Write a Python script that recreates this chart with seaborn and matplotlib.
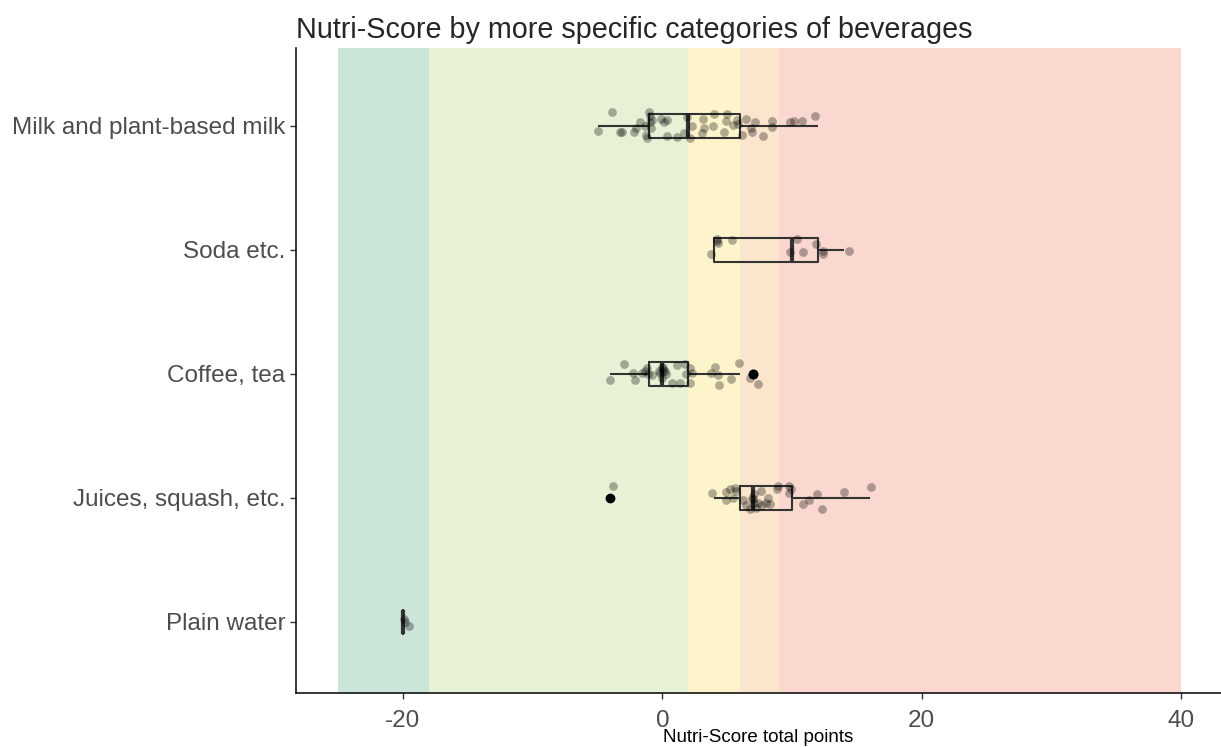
import numpy as np
import pandas as pd
import matplotlib
matplotlib.use("Agg")
import matplotlib.pyplot as plt
import seaborn as sns

# categories, top to bottom
cats = ["Milk and plant-based milk", "Soda etc.", "Coffee, tea",
        "Juices, squash, etc.", "Plain water"]

# Nutri-Score total points per product, plus the jitter seen in the picture
milk_scores = [-5, -4, -3, -3, -2, -2, -2, -1, -1, -1, -1, -1, -1, -1, -1,
               0, 0, 0, 0, 1, 2, 2, 2, 2, 3, 3, 3, 4, 4, 5, 5, 5, 5,
               6, 6, 6, 6, 7, 7, 7, 8, 8, 8, 10, 10, 11, 12]
milk_dx = [0.00, 0.12, -0.24, -0.11, -0.22, 0.00, 0.30, -0.24, -0.06, 0.02, 0.07, 0.13, -0.15, 0.20, -0.30,
           -0.10, 0.15, 0.38, 0.36, 0.14, -0.30, 0.29, -0.10, 0.10, 0.14, 0.07, 0.24, -0.08, 0.02,
           -0.27, 0.00, -0.06, 0.43, -0.23, -0.19, 0.15, 0.45, -0.13, -0.07, 0.18, -0.22, 0.42, 0.47,
           -0.17, 0.14, -0.21, -0.19]
milk_dy = [0.04, -0.11, 0.05, 0.05, 0.05, 0.02, -0.03, 0.07, -0.11, -0.08, -0.03, 0.02, 0.10, -0.05, 0.00,
           -0.06, -0.03, -0.05, 0.08, 0.09, 0.06, 0.00, -0.07, 0.10, -0.06, 0.06, 0.02, 0.00, -0.10,
           0.05, -0.10, -0.04, -0.01, -0.05, -0.02, 0.07, -0.06, 0.02, 0.05, -0.03, 0.08, -0.04, 0.01,
           -0.03, -0.04, -0.04, -0.08]

soda_scores = [4, 4, 4, 4, 5, 10, 10, 11, 12, 12, 12, 14]
soda_dx = [-0.27, 0.22, 0.30, 0.25, 0.40, -0.14, 0.40, -0.12, -0.14, 0.37, 0.42, 0.42]
soda_dy = [0.03, -0.07, -0.06, -0.09, -0.08, 0.02, -0.09, 0.02, -0.05, 0.01, 0.03, 0.01]

coffee_scores = [-4, -3, -2, -2, -2, -1, -1, -1, -1, 0, 0, 0, 0, 0, 0, 0, 0,
                 1, 1, 1, 2, 2, 2, 2, 2, 4, 4, 4, 4, 5, 6, 7, 7]
coffee_dx = [-0.04, 0.06, -0.25, -0.12, 0.40, -0.35, -0.22, -0.10, 0.22,
             -0.25, -0.19, -0.06, 0.02, 0.06, 0.19, 0.32, -0.05,
             -0.29, 0.14, 0.35, -0.27, -0.14, 0.12, 0.12, 0.32,
             -0.22, 0.09, 0.29, 0.35, 0.27, -0.12, -0.22, 0.37]
coffee_dy = [0.05, -0.08, -0.01, 0.05, -0.01, -0.02, -0.05, 0.00, 0.01,
             -0.02, -0.01, -0.06, -0.02, -0.05, -0.02, 0.00, 0.03,
             0.07, -0.07, 0.07, -0.08, 0.00, 0.07, -0.05, -0.01,
             -0.01, -0.06, 0.01, 0.09, 0.04, -0.09, 0.03, 0.08]

juice_scores = [-4, 4, 5, 5, 5, 5, 6, 6, 6, 6, 7, 7, 7, 7, 7, 7, 7,
                8, 8, 8, 8, 8, 9, 9, 10, 10, 10, 11, 11, 12, 12, 14, 16]
juice_dx = [0.19, -0.14, -0.12, -0.12, 0.25, 0.42, -0.42, 0.22, 0.45, -0.30,
            -0.27, -0.06, -0.02, 0.04, 0.25, 0.37, 0.05,
            -0.37, -0.30, 0.00, 0.14, 0.27, -0.17, -0.10, -0.25, -0.20, -0.06,
            -0.17, 0.30, -0.10, 0.30, 0.04, 0.10]
juice_dy = [-0.10, -0.04, -0.05, 0.02, -0.07, 0.00, -0.08, 0.02, 0.06, -0.06,
            0.09, 0.00, 0.01, 0.04, 0.08, 0.04, -0.03,
            -0.06, 0.06, 0.04, 0.00, 0.05, -0.07, -0.10, -0.10, -0.04, -0.07,
            0.05, 0.02, -0.03, 0.09, -0.05, -0.09]

water_scores = [-20, -20, -20]
water_dx = [0.12, 0.45, 0.05]
water_dy = [0.00, 0.03, -0.02]

# Nutri-Score colour bands (beverages)
band_edges = [-25, -18, 2, 6, 9, 40]
band_colors = ["#038141", "#85BB2F", "#FECB02", "#EE8100", "#E63E11"]

xticks = [-20, 0, 20, 40]

scores = [milk_scores, soda_scores, coffee_scores, juice_scores, water_scores]
dxs = [milk_dx, soda_dx, coffee_dx, juice_dx, water_dx]
dys = [milk_dy, soda_dy, coffee_dy, juice_dy, water_dy]

rows = []
for i, cat in enumerate(cats):
    for s, dx, dy in zip(scores[i], dxs[i], dys[i]):
        rows.append({"category": cat, "score": s, "xj": s + dx, "yj": i + dy})
df = pd.DataFrame(rows)

sns.set_style("ticks")
plt.rcParams["font.family"] = ["Liberation Sans", "DejaVu Sans"]

fig = plt.figure(figsize=(12.21, 7.47), dpi=100)
ax = fig.add_axes([296 / 1221, 1 - 693 / 747, 925 / 1221, 645 / 747])

for i in range(len(band_colors)):
    ax.axvspan(band_edges[i], band_edges[i + 1], color=band_colors[i], alpha=0.2, lw=0, zorder=0)

sns.boxplot(data=df, x="score", y="category", order=cats, width=0.2, fill=False,
            color="#333333", linewidth=1.5, showcaps=False, whis=1.5,
            medianprops=dict(linewidth=3, color="#333333"),
            flierprops=dict(marker="o", markerfacecolor="black", markeredgecolor="black",
                            markersize=6, alpha=1),
            ax=ax, zorder=2)

sns.scatterplot(data=df, x="xj", y="yj", color="black", alpha=0.3, s=40,
                linewidth=0, ax=ax, zorder=3, legend=False)

ax.set_xlim(-28.25, 43.08)
ax.set_ylim(4.573, -0.629)
ax.set_xticks(xticks)
ax.set_xticklabels([str(t) for t in xticks])
ax.set_yticks(range(len(cats)))
ax.set_yticklabels(cats)

for side in ["top", "right"]:
    ax.spines[side].set_visible(False)
for side in ["left", "bottom"]:
    ax.spines[side].set_color("black")
    ax.spines[side].set_linewidth(1.1)

ax.tick_params(axis="both", length=4, width=1, color="#333333",
               labelsize=17.5, labelcolor="#4d4d4d", pad=3.5)
ax.tick_params(axis="x", pad=8)
ax.set_xlabel("Nutri-Score total points", fontsize=13.5, color="black", labelpad=-2)
ax.set_ylabel("")
ax.set_title("Nutri-Score by more specific categories of beverages", fontsize=20.7,
             loc="left", pad=7)

plt.savefig("out.png", dpi=100)
